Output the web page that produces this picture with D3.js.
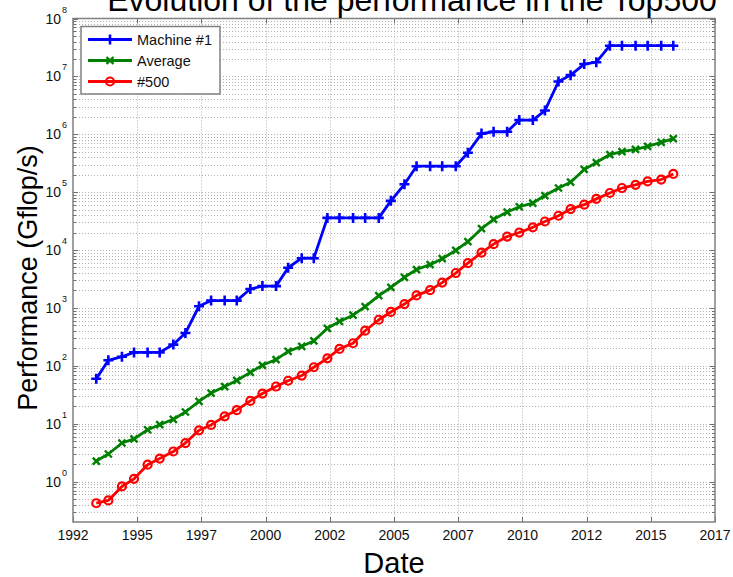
<!DOCTYPE html>
<html>
<head>
<meta charset="utf-8">
<script src="https://cdn.jsdelivr.net/npm/d3@7"></script>
<style>
  html, body { margin: 0; padding: 0; background: #fff; }
  svg { display: block; font-family: "Liberation Sans", Arial, Helvetica, sans-serif; }
</style>
</head>
<body>
<svg id="chart" width="733" height="577"></svg>
<script>
// TOP500 list editions (June and November of each year)
const listDates = [
  "1993-06","1993-11","1994-06","1994-11","1995-06","1995-11","1996-06","1996-11",
  "1997-06","1997-11","1998-06","1998-11","1999-06","1999-11","2000-06","2000-11",
  "2001-06","2001-11","2002-06","2002-11","2003-06","2003-11","2004-06","2004-11",
  "2005-06","2005-11","2006-06","2006-11","2007-06","2007-11","2008-06","2008-11",
  "2009-06","2009-11","2010-06","2010-11","2011-06","2011-11","2012-06","2012-11",
  "2013-06","2013-11","2014-06","2014-11","2015-06","2015-11"
];

// Rmax of the fastest system (Gflop/s)
const machine1 = [
  59.7, 124.5, 143.4, 170.4, 170.4, 170.4, 232.4, 368.2,
  1068, 1338, 1338, 1338, 2121, 2379, 2379, 4938,
  7226, 7226, 35860, 35860, 35860, 35860, 35860, 70720,
  136800, 280600, 280600, 280600, 280600, 478200, 1026000, 1105000,
  1105000, 1759000, 1759000, 2566000, 8162000, 10510000, 16320000, 17590000,
  33860000, 33860000, 33860000, 33860000, 33860000, 33860000
];

// Mean Rmax over the 500 listed systems (Gflop/s)
const average = [
  2.26, 2.99, 4.63, 5.46, 7.85, 9.59, 11.9, 15.9,
  24.2, 33.8, 43.8, 55.8, 77, 102, 128, 177,
  217, 269, 444, 584, 748, 1052, 1626, 2254,
  3380, 4600, 5580, 7080, 9840, 13940, 23400, 33900,
  45200, 55900, 64800, 87400, 117800, 148400, 246800, 324000,
  446000, 500000, 548000, 618000, 722000, 840000
];

// Rmax of the last entry on the list (Gflop/s)
const last500 = [
  0.422, 0.472, 0.822, 1.114, 1.955, 2.489, 3.306, 4.62,
  7.668, 9.513, 13.39, 17.12, 24.73, 33.11, 43.82, 55.1,
  67.78, 94.3, 134.3, 195.8, 245.1, 403.4, 624, 850.6,
  1166, 1646, 2026, 2737, 4005, 5929, 9000, 12640,
  17090, 20050, 24670, 31120, 39090, 50940, 60820, 76500,
  96620, 117800, 133700, 153400, 164700, 206300
];

const seriesNames = ["Machine #1", "Average", "#500"];
const xTickDates = ["1992-07-01","1995-01-01","1997-07-01","2000-01-01","2002-07-01",
                    "2005-01-01","2007-07-01","2010-01-01","2012-07-01","2015-01-01","2017-07-01"];
const yDecades = [1, 10, 100, 1e3, 1e4, 1e5, 1e6, 1e7, 1e8];

const svg = d3.select("#chart");
const plot = { left: 73, right: 715, top: 18.5, bottom: 522 };

// list release days within the year
const parseDate = s => {
  const [yr, m] = s.split("-").map(Number);
  return m === 6 ? new Date(yr, 4, 28) : new Date(yr, 10, 16);
};
const dates = listDates.map(parseDate);

const x = d3.scaleTime()
  .domain([new Date(1992, 6, 1), new Date(2017, 6, 1)])
  .range([plot.left, plot.right]);
const y = d3.scaleLog()
  .domain([0.2, 1e8])
  .range([plot.bottom, plot.top]);

const xTicks = xTickDates.map(s => { const [a, b, c] = s.split("-").map(Number); return new Date(a, b - 1, c); });

// minor log ticks 2..9 within each decade
const minorVals = [];
for (let e = -1; e < 8; e++) {
  for (let k = 2; k <= 9; k++) {
    const v = k * Math.pow(10, e);
    if (v > 0.2 + 1e-9 && v < 1e8) minorVals.push(v);
  }
}

// dotted grid
const grid = svg.append("g").attr("stroke", "#b0b0b0").attr("stroke-width", 1)
  .attr("stroke-dasharray", "1,2").attr("fill", "none");
grid.selectAll("line.gx").data(xTicks.slice(1, -1)).join("line")
  .attr("x1", d => Math.round(x(d)) + 0.5).attr("x2", d => Math.round(x(d)) + 0.5)
  .attr("y1", plot.top).attr("y2", plot.bottom);
grid.selectAll("line.gy").data(yDecades.slice(0, -1).concat(minorVals)).join("line")
  .attr("x1", plot.left).attr("x2", plot.right)
  .attr("y1", d => Math.round(y(d)) + 0.5).attr("y2", d => Math.round(y(d)) + 0.5);

// tick marks, inside on all four sides
const ticks = svg.append("g").attr("stroke", "#6e6e6e").attr("stroke-width", 1);
xTicks.forEach(d => {
  const px = Math.round(x(d)) + 0.5;
  ticks.append("line").attr("x1", px).attr("x2", px).attr("y1", plot.bottom).attr("y2", plot.bottom - 5);
  ticks.append("line").attr("x1", px).attr("x2", px).attr("y1", plot.top).attr("y2", plot.top + 5);
});
yDecades.forEach(d => {
  const py = Math.round(y(d)) + 0.5;
  ticks.append("line").attr("x1", plot.left).attr("x2", plot.left + 5).attr("y1", py).attr("y2", py);
  ticks.append("line").attr("x1", plot.right).attr("x2", plot.right - 5).attr("y1", py).attr("y2", py);
});
minorVals.forEach(d => {
  const py = Math.round(y(d)) + 0.5;
  ticks.append("line").attr("x1", plot.left).attr("x2", plot.left + 3).attr("y1", py).attr("y2", py);
  ticks.append("line").attr("x1", plot.right).attr("x2", plot.right - 3).attr("y1", py).attr("y2", py);
});

// axes box
svg.append("rect")
  .attr("x", plot.left).attr("y", plot.top)
  .attr("width", plot.right - plot.left).attr("height", plot.bottom - plot.top)
  .attr("fill", "none").attr("stroke", "#808080").attr("stroke-width", 1.5);

// x tick labels
const fmtYear = d3.timeFormat("%Y");
svg.append("g").selectAll("text").data(xTicks).join("text")
  .attr("x", d => x(d)).attr("y", 540)
  .attr("text-anchor", "middle").attr("font-size", 14).attr("fill", "#111")
  .text(d => fmtYear(d));

// y tick labels: 10 with superscript exponent
const yl = svg.append("g").attr("fill", "#111");
yDecades.forEach(d => {
  const e = Math.round(Math.log10(d));
  yl.append("text").attr("x", 61).attr("y", y(d) + 5)
    .attr("text-anchor", "end").attr("font-size", 14).text("10");
  yl.append("text").attr("x", 62).attr("y", y(d) - 6)
    .attr("font-size", 9).text(e);
});

// series
const line = d3.line().x((d, i) => x(dates[i])).y(d => y(d));
const series = [
  { name: seriesNames[0], values: machine1, color: "#0000ff", marker: "plus" },
  { name: seriesNames[1], values: average, color: "#008000", marker: "cross" },
  { name: seriesNames[2], values: last500, color: "#ff0000", marker: "circle" }
];

function drawMarker(g, type, color) {
  if (type === "plus") {
    g.append("path").attr("d", "M-5,0H5M0,-5V5").attr("stroke", color).attr("stroke-width", 2.6).attr("fill", "none");
  } else if (type === "cross") {
    g.append("path").attr("d", "M-3.5,-3.5L3.5,3.5M-3.5,3.5L3.5,-3.5").attr("stroke", color).attr("stroke-width", 2.4).attr("fill", "none");
  } else {
    g.append("circle").attr("r", 4).attr("stroke", color).attr("stroke-width", 2.2).attr("fill", "none");
  }
}

series.forEach(s => {
  svg.append("path").datum(s.values)
    .attr("d", line).attr("fill", "none")
    .attr("stroke", s.color).attr("stroke-width", 2.8).attr("stroke-linejoin", "round");
  s.values.forEach((v, i) => {
    const g = svg.append("g").attr("transform", `translate(${x(dates[i])},${y(v)})`);
    drawMarker(g, s.marker, s.color);
  });
});

// legend
const lg = svg.append("g");
lg.append("rect").attr("x", 81).attr("y", 26.5).attr("width", 139).attr("height", 67.5)
  .attr("fill", "#fff").attr("stroke", "#808080").attr("stroke-width", 1.5);
series.forEach((s, i) => {
  const ly = 39.5 + i * 21;
  lg.append("line").attr("x1", 88).attr("x2", 132).attr("y1", ly).attr("y2", ly)
    .attr("stroke", s.color).attr("stroke-width", 2.8);
  const g = lg.append("g").attr("transform", `translate(110,${ly})`);
  drawMarker(g, s.marker, s.color);
  lg.append("text").attr("x", 137).attr("y", ly + 5).attr("font-size", 14.5).attr("fill", "#111").text(s.name);
});

// titles
svg.append("text").attr("x", 412).attr("y", 11).attr("text-anchor", "middle")
  .attr("font-size", 32).attr("fill", "#000").text("Evolution of the performance in the Top500");
svg.append("text").attr("x", 394).attr("y", 573).attr("text-anchor", "middle")
  .attr("font-size", 29).attr("fill", "#000").text("Date");
svg.append("text").attr("transform", "translate(37,278) rotate(-90)").attr("text-anchor", "middle")
  .attr("font-size", 27).attr("fill", "#000").text("Performance (Gflop/s)");
</script>
</body>
</html>
